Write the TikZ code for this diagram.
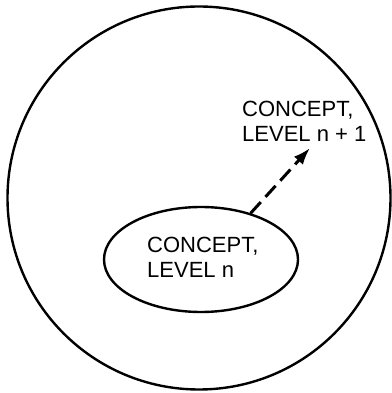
\documentclass[tikz,border=0pt]{standalone}
\usepackage{fontspec}
\setmainfont{Liberation Sans}
\usetikzlibrary{shapes.geometric,arrows.meta}
\begin{document}
\begin{tikzpicture}[x=1pt,y=1pt,
  outline/.style={draw=black,line width=2.4pt},
  label/.style={inner sep=0pt,align=left,anchor=base west,
    font=\fontsize{22}{25}\selectfont},
  dasharrow/.style={line width=3pt,dash pattern=on 15pt off 7pt,
    -{Latex[length=17pt,width=12pt]}}]
\useasboundingbox[fill=white] (0,0) rectangle (391,393);
\node[outline,circle,minimum size=383pt,inner sep=0pt] (outer) at (199,195) {};
\node[outline,ellipse,minimum width=194pt,minimum height=105pt,inner sep=0pt] (inner) at (201,133.5) {};
\node[label] (lowtext) at (147,115) {CONCEPT,\\LEVEL n};
\node[label] (hightext) at (242,251) {CONCEPT,\\LEVEL n + 1};
\coordinate (tip) at (310,245);
\draw[dasharrow] (inner.43) -- (tip);
\end{tikzpicture}
\end{document}
